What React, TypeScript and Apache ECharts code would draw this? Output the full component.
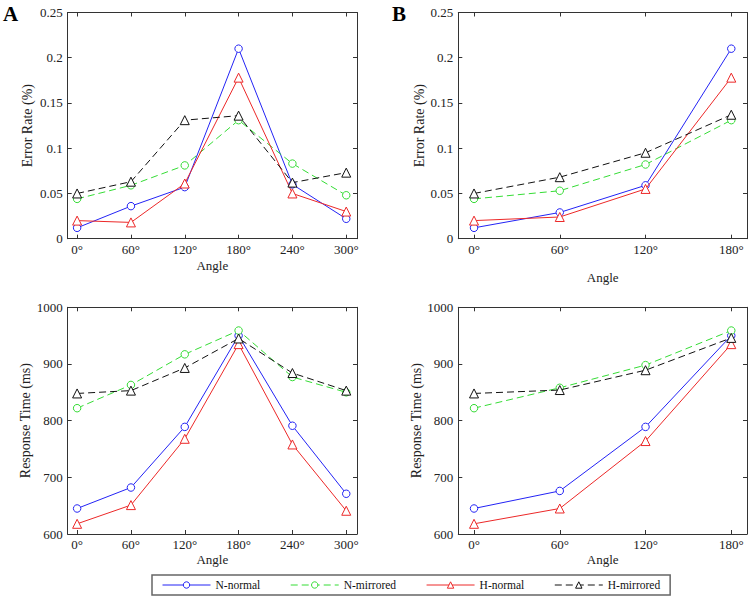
import React, { useEffect, useRef } from "react";
import * as echarts from "echarts";

// ---------- data ----------
const anglesA = [0, 60, 120, 180, 240, 300];
const anglesB = [0, 60, 120, 180];
const seriesNames = ["N-normal", "N-mirrored", "H-normal", "H-mirrored"];

// Panel A – error rate
const errA_Nnormal = [0.012, 0.036, 0.057, 0.21, 0.06, 0.022];
const errA_Nmirrored = [0.044, 0.059, 0.081, 0.131, 0.083, 0.048];
const errA_Hnormal = [0.02, 0.018, 0.061, 0.178, 0.05, 0.03];
const errA_Hmirrored = [0.05, 0.063, 0.131, 0.136, 0.062, 0.073];

// Panel B – error rate
const errB_Nnormal = [0.012, 0.029, 0.059, 0.21];
const errB_Nmirrored = [0.044, 0.053, 0.082, 0.131];
const errB_Hnormal = [0.02, 0.024, 0.055, 0.178];
const errB_Hmirrored = [0.05, 0.068, 0.095, 0.137];

// Panel A – response time
const rtA_Nnormal = [645, 682, 789, 950, 791, 671];
const rtA_Nmirrored = [822, 863, 917, 959, 877, 850];
const rtA_Hnormal = [618, 651, 768, 935, 758, 641];
const rtA_Hmirrored = [848, 853, 893, 945, 884, 853];

// Panel B – response time
const rtB_Nnormal = [645, 676, 789, 950];
const rtB_Nmirrored = [822, 858, 898, 959];
const rtB_Hnormal = [618, 645, 764, 935];
const rtB_Hmirrored = [848, 854, 889, 946];

const errTicks = { min: 0, max: 0.25, interval: 0.05 };
const rtTicks = { min: 600, max: 1000, interval: 100 };

// ---------- styles ----------
const FONT = "'Liberation Serif', 'DejaVu Serif', serif";
const AXIS = "#333";
const colors = ["#2323f5", "#35dc35", "#ec2828", "#111111"];
const lineTypes: any[] = ["solid", [7, 4], "solid", [7, 4]];
const symbols = ["circle", "circle", "triangle", "triangle"];
const symbolSizes = [7.5, 7.5, 9, 9];

const grids = [
  { left: 67.7, top: 12.5, width: 289.3, height: 226.2 },
  { left: 458.3, top: 12.5, width: 288.7, height: 226.2 },
  { left: 67.7, top: 307.3, width: 289.3, height: 226.7 },
  { left: 458.3, top: 307.3, width: 288.7, height: 226.7 },
];

function makeX(gridIndex: number, min: number, max: number, ticks: number[], nameGap: number) {
  const common = {
    type: "value",
    gridIndex,
    min,
    max,
    splitLine: { show: false },
    axisLine: { show: true, onZero: false, lineStyle: { color: AXIS, width: 1 } },
    axisTick: { show: true, inside: true, length: 4, customValues: ticks, lineStyle: { color: AXIS } },
  };
  return [
    {
      ...common,
      position: "bottom",
      name: "Angle",
      nameLocation: "middle",
      nameGap,
      nameTextStyle: { fontFamily: FONT, fontSize: 13, color: "#222" },
      axisLabel: {
        customValues: ticks,
        formatter: (v: number) => v + "°",
        fontFamily: FONT,
        fontSize: 13,
        color: "#222",
        margin: 4,
      },
    },
    { ...common, position: "top", axisLabel: { show: false } },
  ];
}

function makeY(
  gridIndex: number,
  t: { min: number; max: number; interval: number },
  name: string,
  nameGap: number,
  plain: boolean
) {
  const common = {
    type: "value",
    gridIndex,
    min: t.min,
    max: t.max,
    interval: t.interval,
    splitLine: { show: false },
    axisLine: { show: true, onZero: false, lineStyle: { color: AXIS, width: 1 } },
    axisTick: { show: true, inside: true, length: 4, lineStyle: { color: AXIS } },
  };
  const label: any = { fontFamily: FONT, fontSize: 13, color: "#222", margin: 5 };
  if (plain) label.formatter = (v: number) => String(Math.round(v));
  return [
    {
      ...common,
      position: "left",
      name,
      nameLocation: "middle",
      nameGap,
      nameTextStyle: { fontFamily: FONT, fontSize: 14, color: "#222" },
      axisLabel: label,
    },
    { ...common, position: "right", axisLabel: { show: false } },
  ];
}

function makeSeries(panel: number, xs: number[], sets: number[][]) {
  return sets.map((vals, i) => ({
    type: "line",
    name: seriesNames[i],
    xAxisIndex: panel * 2,
    yAxisIndex: panel * 2,
    data: xs.map((x, j) => [x, vals[j]]),
    symbol: symbols[i],
    symbolSize: symbolSizes[i],
    showAllSymbol: true,
    lineStyle: { color: colors[i], width: 1, type: lineTypes[i] },
    itemStyle: { color: "#ffffff", borderColor: colors[i], borderWidth: 1 },
    emphasis: { disabled: true },
    z: 2 + i,
  }));
}

export default function App() {
  const ref = useRef<HTMLDivElement>(null);
  useEffect(() => {
    if (!ref.current) return;
    const chart = echarts.init(ref.current, undefined, { renderer: "svg" });
    const option: any = {
      animation: false,
      backgroundColor: "#ffffff",
      textStyle: { fontFamily: FONT },
      grid: grids,
      xAxis: [
        ...makeX(0, -10.5, 312, anglesA, 20),
        ...makeX(1, -11, 191, anglesB, 32),
        ...makeX(2, -10.5, 312, anglesA, 19),
        ...makeX(3, -11, 191, anglesB, 19),
      ],
      yAxis: [
        ...makeY(0, errTicks, "Error Rate (%)", 33, false),
        ...makeY(1, errTicks, "Error Rate (%)", 31, false),
        ...makeY(2, rtTicks, "Response Time (ms)", 33, true),
        ...makeY(3, rtTicks, "Response Time (ms)", 31, true),
      ],
      legend: {
        data: seriesNames,
        left: 152,
        top: 575,
        orient: "horizontal",
        padding: [4, 10, 4, 10],
        itemWidth: 48,
        itemHeight: 8,
        itemGap: 30,
        borderColor: "#666",
        borderWidth: 1.5,
        itemStyle: { borderWidth: 1 },
        lineStyle: { width: 1 },
        textStyle: { fontFamily: FONT, fontSize: 11.5, color: "#111" },
        selectedMode: false,
      },
      graphic: [
        { type: "text", left: 3, top: 3, style: { text: "A", fontFamily: FONT, fontWeight: "bold", fontSize: 21, fill: "#000" } },
        { type: "text", left: 392, top: 3, style: { text: "B", fontFamily: FONT, fontWeight: "bold", fontSize: 21, fill: "#000" } },
      ],
      series: [
        ...makeSeries(0, anglesA, [errA_Nnormal, errA_Nmirrored, errA_Hnormal, errA_Hmirrored]),
        ...makeSeries(1, anglesB, [errB_Nnormal, errB_Nmirrored, errB_Hnormal, errB_Hmirrored]),
        ...makeSeries(2, anglesA, [rtA_Nnormal, rtA_Nmirrored, rtA_Hnormal, rtA_Hmirrored]),
        ...makeSeries(3, anglesB, [rtB_Nnormal, rtB_Nmirrored, rtB_Hnormal, rtB_Hmirrored]),
      ],
    };
    chart.setOption(option);
    return () => chart.dispose();
  }, []);
  return (
    <div
      ref={ref}
      style={{ position: "absolute", left: 0, top: 0, width: 750, height: 598, background: "#fff" }}
    />
  );
}
